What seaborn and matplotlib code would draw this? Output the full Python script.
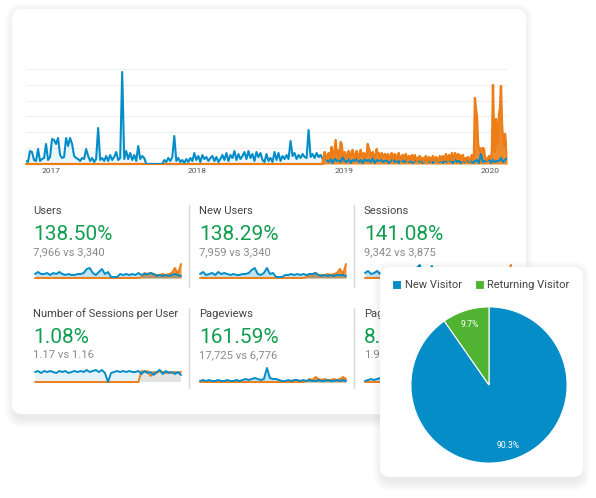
import numpy as np
import pandas as pd
import seaborn as sns
import matplotlib.pyplot as plt
from matplotlib.patches import FancyBboxPatch

# dados, alturas em pixels acima da linha de base
years = ["2017", "2018", "2019", "2020"]
year_dates = ["2017-01-01", "2018-01-01", "2019-01-01", "2020-01-01"]

main_blue = [
    3, 2, 13, 12, 4, 3, 15, 3, 5, 6,
    20, 4, 7, 25, 24, 20, 26, 9, 6, 7,
    26, 18, 26, 20, 8, 6, 5, 3, 6, 5,
    15, 8, 3, 6, 2, 5, 36, 4, 6, 3,
    8, 3, 9, 4, 7, 12, 4, 6, 92, 5,
    13, 5, 11, 4, 9, 3, 18, 5, 8, 6,
    0, 0, 0, 0, 0, 0, 0, 0, 0, 4,
    2, 6, 3, 7, 28, 3, 6, 2, 4, 1,
    5, 2, 6, 3, 11, 4, 8, 2, 9, 5,
    7, 3, 6, 8, 3, 7, 2, 5, 9, 4,
    11, 3, 9, 6, 13, 4, 10, 5, 8, 12,
    5, 13, 6, 10, 3, 12, 7, 11, 4, 2,
    10, 3, 6, 2, 12, 4, 11, 3, 8, 5,
    9, 5, 23, 8, 11, 5, 9, 6, 10, 7,
    6, 34, 7, 10, 6, 11, 7, 9, 5, 6,
    4, 2, 5, 1, 6, 3, 4, 2, 7, 3,
    2, 5, 1, 4, 3, 6, 2, 4, 1, 5,
    3, 4, 2, 6, 1, 4, 3, 5, 2, 3,
    4, 1, 3, 6, 2, 4, 1, 5, 3, 2,
    4, 2, 3, 1, 3, 5, 2, 4, 1, 3,
    5, 2, 4, 1, 3, 6, 2, 3, 1, 4,
    2, 4, 3, 1, 5, 2, 3, 1, 4, 2,
    6, 2, 3, 1, 3, 4, 1, 10, 2, 3,
    3, 5, 1, 4, 2, 3, 3, 6, 2, 4, 6,
]
# laranja so existe a partir do fim de 2018, de pixel em pixel
main_orange = [
    2, 7, 12, 6, 5, 9, 11, 6, 9, 17,
    8, 6, 15, 24, 10, 14, 5, 8, 22, 20,
    9, 8, 12, 7, 5, 11, 13, 6, 7, 12,
    14, 8, 6, 10, 13, 6, 5, 11, 14, 8,
    7, 11, 10, 6, 9, 20, 16, 13, 8, 9,
    12, 7, 6, 10, 15, 9, 11, 5, 7, 11,
    8, 6, 10, 9, 5, 10, 7, 4, 9, 11,
    5, 8, 10, 6, 4, 9, 11, 6, 4, 8,
    9, 5, 7, 10, 6, 3, 8, 6, 4, 9,
    7, 3, 9, 5, 6, 3, 7, 8, 4, 6,
    6, 2, 5, 8, 4, 3, 7, 6, 3, 5,
    8, 4, 3, 7, 6, 4, 3, 8, 5, 3,
    8, 5, 4, 10, 6, 3, 9, 7, 4, 11,
    5, 4, 11, 8, 5, 10, 6, 9, 7, 3,
    9, 5, 3, 6, 5, 7, 4, 3, 7, 9, 5, 8,
    66, 55, 48, 22, 14, 16, 12, 15, 16, 15, 7,
    5, 4, 6, 8, 6, 5, 14, 79, 30, 12, 45,
    30, 20, 50, 55, 78, 40, 25, 18, 30, 20, 12,
]
main_orange_flat = [0, 0]

users_blue = [4, 6, 4, 4, 5, 3, 5, 4, 6, 4, 3, 4, 3, 3, 4, 4, 5, 9, 10, 5, 3, 6, 9, 4, 6,
              1, 1, 1, 4, 3, 4, 3, 4, 3, 5, 3, 4, 4, 5, 4, 2, 3, 2, 3, 2, 3, 4, 3, 2]
users_orange = [0, 0, 0, 0, 0, 0, 0, 0, 0, 0, 0, 0, 0, 0, 0, 0, 0, 0, 0, 0, 0, 0, 0, 0, 0,
                0, 0, 0, 0, 0, 0, 0, 0, 0, 0, 1, 5, 4, 5, 4, 3, 3, 4, 3, 4, 5, 10, 4, 14]
new_users_blue = [4, 6, 3, 4, 5, 3, 6, 4, 5, 4, 3, 4, 3, 3, 4, 4, 5, 8, 10, 4, 3, 5, 10, 4, 5,
                  1, 1, 1, 3, 3, 4, 3, 4, 3, 4, 3, 4, 4, 5, 3, 2, 3, 2, 3, 2, 3, 3, 3, 2]
new_users_orange = [0, 0, 0, 0, 0, 0, 0, 0, 0, 0, 0, 0, 0, 0, 0, 0, 0, 0, 0, 0, 0, 0, 0, 0, 0,
                    0, 0, 0, 0, 0, 0, 0, 0, 0, 0, 1, 4, 4, 5, 3, 3, 3, 4, 3, 4, 5, 9, 4, 14]
sessions_blue = [5, 7, 4, 5, 7, 4, 6, 4, 7, 5, 3, 5, 3, 4, 4, 5, 6, 10, 13, 5, 4, 7, 12, 4, 6,
                 1, 1, 1, 4, 3, 5, 3, 4, 3, 5, 3, 4, 5, 5, 4, 2, 3, 2, 3, 2, 3, 4, 3, 2]
sessions_orange = [0, 0, 0, 0, 0, 0, 0, 0, 0, 0, 0, 0, 0, 0, 0, 0, 0, 0, 0, 0, 0, 0, 0, 0, 0,
                   0, 0, 0, 0, 0, 0, 0, 0, 0, 0, 1, 5, 4, 5, 4, 3, 3, 4, 3, 4, 5, 10, 5, 13]
per_user_blue = [10, 11, 9, 11, 10, 11, 10, 9, 11, 10, 11, 9, 10, 11, 10, 11, 10, 12, 10, 11, 12, 10, 12, 9, 0,
                 9, 10, 11, 10, 11, 10, 11, 10, 10, 11, 8, 11, 9, 10, 7, 10, 12, 8, 11, 9, 10, 8, 10, 7]
per_user_orange = [0, 0, 0, 0, 0, 0, 0, 0, 0, 0, 0, 0, 0, 0, 0, 0, 0, 0, 0, 0, 0, 0, 0, 0, 0,
                   0, 0, 0, 0, 0, 0, 0, 0, 0, 0, 11, 10, 11, 6, 10, 9, 11, 10, 9, 10, 9, 10, 9, 10]
pageviews_blue = [1, 2, 1, 2, 1, 1, 2, 1, 1, 2, 1, 1, 2, 1, 2, 3, 2, 3, 4, 3, 2, 3, 14, 4, 3,
                  3, 2, 1, 1, 2, 1, 2, 2, 1, 2, 1, 2, 1, 1, 2, 1, 1, 2, 1, 1, 2, 1, 2, 1]
pageviews_orange = [0, 0, 0, 0, 0, 0, 0, 0, 0, 0, 0, 0, 0, 0, 0, 0, 0, 0, 0, 0, 0, 0, 0, 0, 0,
                    0, 0, 0, 0, 0, 0, 0, 0, 0, 0, 1, 3, 2, 5, 3, 2, 3, 2, 2, 3, 2, 3, 5, 3]
pages_blue = [1, 2, 3, 2, 3, 4]
pages_orange = [0, 0, 0, 0, 0, 0]

metric_names = ["Users", "New Users", "Sessions", "Number of Sessions per User", "Pageviews", "Pag"]
metric_pcts = ["138.50%", "138.29%", "141.08%", "1.08%", "161.59%", "8."]
metric_subs = ["7,966 vs 3,340", "7,959 vs 3,340", "9,342 vs 3,875", "1.17 vs 1.16", "17,725 vs 6,776", "1.9"]

pie_labels = ["New Visitor", "Returning Visitor"]
pie_values = [90.3, 9.7]

BLUE = "#058DC7"
ORANGE = "#ED7E17"
GREEN = "#50B432"
W, H = 596, 498

sns.set_theme(style="white")
plt.rcParams["font.family"] = ["Roboto", "DejaVu Sans"]

fig = plt.figure(figsize=(W / 100, H / 100), dpi=100, facecolor="white")


def px_axes(x0, y0, x1, y1, zorder):
    ax = fig.add_axes([x0 / W, 1 - y1 / H, (x1 - x0) / W, (y1 - y0) / H], zorder=zorder)
    ax.patch.set_alpha(0)
    return ax


def card(ax, x0, y0, x1, y1, zorder):
    # sombra curta, deslocada para baixo
    for grow in range(1, 11):
        ax.add_patch(FancyBboxPatch((x0 + 3 - grow, y0 + 4 - grow), x1 - x0 - 6 + 2 * grow, y1 - y0 + 2 * grow,
                                    boxstyle="round,pad=0,rounding_size=%d" % (8 + grow),
                                    fc="black", ec="none", alpha=0.009, zorder=zorder))
    ax.add_patch(FancyBboxPatch((x0, y0), x1 - x0, y1 - y0, boxstyle="round,pad=0,rounding_size=10",
                                fc="white", ec="none", zorder=zorder + 1))


back = px_axes(0, 0, W, H, 0)
back.set_xlim(0, W)
back.set_ylim(H, 0)
back.axis("off")
card(back, 12, 9, 526, 414, 1)

# grafico principal: 2 px = 5 dias no azul, 1 px = 60 h no laranja
dates = pd.date_range("2016-10-30", periods=len(main_blue), freq="5D")
orange_dates = pd.date_range(dates[148], periods=len(main_orange), freq="60h")
flat_dates = [dates[0], dates[148]]

ax = px_axes(26, 64, 507, 164, 1)
ax.fill_between(dates, main_blue, color=BLUE, alpha=0.08, lw=0)
ax.fill_between(orange_dates, main_orange, color=ORANGE, alpha=0.9, lw=0)
sns.lineplot(x=flat_dates, y=main_orange_flat, color=ORANGE, lw=1.6, clip_on=False, ax=ax)
sns.lineplot(x=dates, y=main_blue, color=BLUE, lw=1.5, ax=ax)
# linha laranja por cima do azul, que so aparece nos vales
sns.lineplot(x=orange_dates, y=main_orange, color=ORANGE, lw=1.7, ax=ax)
ax.set_xlim(dates[0], dates[-1])
ax.set_ylim(0, 100)
ax.set_yticks([16, 32, 48, 63, 79, 95])
ax.set_yticklabels([])
ax.grid(axis="y", color="#efefef", lw=0.8)
ax.set_axisbelow(True)
ax.set_xticks(pd.to_datetime(year_dates))
ax.set_xticklabels(years, fontsize=6, color="#555555")
ax.tick_params(axis="x", length=0, pad=3)
ax.set_xlabel("")
ax.set_ylabel("")
sns.despine(ax=ax, left=True, right=True, top=True, bottom=True)

# blocos de metricas
left_px = [35, 200, 365, 35, 200, 365]
base_px = [278, 278, 278, 382, 382, 382]
spark_blue = [users_blue, new_users_blue, sessions_blue, per_user_blue, pageviews_blue, pages_blue]
spark_orange = [users_orange, new_users_orange, sessions_orange, per_user_orange, pageviews_orange, pages_orange]
text_y = [211, 211, 211, 314, 314, 314]

for i in range(6):
    x0, base = left_px[i], base_px[i]
    tx = x0 - 2 + (i % 3 > 0)
    back.text(tx, text_y[i], metric_names[i], fontsize=8.15, color="#444444", va="center", zorder=5)
    back.text(tx, text_y[i] + 23, metric_pcts[i], fontsize=15, color="#129E50", va="center", zorder=5)
    back.text(tx, text_y[i] + 41, metric_subs[i], fontsize=8.1, color="#8a8a8a", va="center", zorder=5)

    sp = px_axes(x0, base - 20, x0 + 146, base, 1)
    steps = np.arange(len(spark_blue[i])) * 3
    if i == 3:
        sp.fill_between(steps[:36], per_user_blue[:36], color=BLUE, alpha=0.1, lw=0)
        sp.fill_between(steps[35:], 11, color="#dddddd", alpha=0.8, lw=0)
    else:
        sp.fill_between(steps, spark_orange[i], color=ORANGE, alpha=0.8, lw=0)
        sp.fill_between(steps, spark_blue[i], color=BLUE, alpha=0.25, lw=0)
    sns.lineplot(x=steps, y=spark_orange[i], color=ORANGE, lw=1.4, clip_on=False, ax=sp)
    sns.lineplot(x=steps, y=spark_blue[i], color=BLUE, lw=1.4, clip_on=False, ax=sp)
    sp.set_xlim(0, 144)
    sp.set_ylim(0, 20)
    sp.axis("off")

# separadores
for x in [189, 354]:
    back.plot([x, x], [205, 287], color="#d9d9d9", lw=1, zorder=5)
    back.plot([x, x], [308, 388], color="#d9d9d9", lw=1, zorder=5)

# cartao da pizza por cima de tudo
over = px_axes(0, 0, W, H, 2)
over.set_xlim(0, W)
over.set_ylim(H, 0)
over.axis("off")
card(over, 380, 267, 583, 477, 1)

pie_ax = px_axes(489 - 82, 385 - 82, 489 + 82, 385 + 82, 3)
wedges, _, autotexts = pie_ax.pie(pie_values, colors=[BLUE, GREEN], startangle=90, counterclock=False,
                                  autopct="%.1f%%", pctdistance=0.81,
                                  wedgeprops={"edgecolor": "white", "linewidth": 0.8},
                                  textprops={"fontsize": 6.2, "color": "white"})
pie_ax.set_xlim(-1.05, 1.05)
pie_ax.set_ylim(-1.05, 1.05)
pie_ax.legend(wedges, pie_labels, ncol=2, loc="center left", bbox_to_anchor=(392 / W, 1 - 285 / H),
              bbox_transform=fig.transFigure, frameon=False, fontsize=8.0, labelcolor="#444444",
              handlelength=0.85, handleheight=0.85, handletextpad=0.3, columnspacing=1.15,
              borderpad=0, borderaxespad=0)

fig.savefig("out.png", dpi=100)
